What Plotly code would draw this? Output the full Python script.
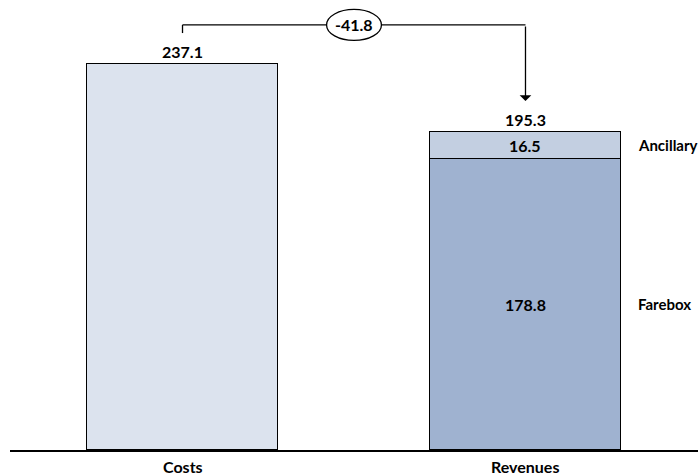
import plotly.graph_objects as go

# Values
categories = ["Costs", "Revenues"]
costs_total = [237.1]
farebox = [178.8]
ancillary = [16.5]
segment_names = ["Farebox", "Ancillary"]

revenue_total = round(farebox[0] + ancillary[0], 1)
delta = round(revenue_total - costs_total[0], 1)

font_family = "Lato, 'Open Sans', sans-serif"
bar_w = 0.557
line = dict(color="black", width=1)
bracket_line = dict(color="black", width=1.3)

fig = go.Figure()
fig.add_bar(x=[0], y=costs_total, width=bar_w, marker=dict(color="#dce3ee", line=line),
            showlegend=False, hoverinfo="skip")
fig.add_bar(x=[1], y=farebox, width=bar_w, marker=dict(color="#9fb2d0", line=line),
            showlegend=False, hoverinfo="skip")
fig.add_bar(x=[1], y=ancillary, width=bar_w, marker=dict(color="#c3cfe1", line=line),
            showlegend=False, hoverinfo="skip")

bold = dict(family=font_family, size=16, color="black", weight="bold")
side = dict(family=font_family, size=15, color="black", weight="bold")
ann = []
# totals above bars
ann.append(dict(x=0, y=costs_total[0], text=str(costs_total[0]), showarrow=False,
                yanchor="bottom", yshift=1, font=bold))
ann.append(dict(x=1, y=revenue_total, text=str(revenue_total), showarrow=False,
                yanchor="bottom", yshift=1, font=bold))
# segment values
ann.append(dict(x=1, y=farebox[0] + ancillary[0] / 2, text=str(ancillary[0]), showarrow=False, font=bold))
ann.append(dict(x=1, y=farebox[0] / 2, text=str(farebox[0]), showarrow=False, font=bold))
# segment names to the right
right_edge = 1 + bar_w / 2
ann.append(dict(x=right_edge, y=farebox[0] + ancillary[0] / 2, text=segment_names[1], showarrow=False,
                xanchor="left", xshift=15, font=side))
ann.append(dict(x=right_edge, y=farebox[0] / 2, text=segment_names[0], showarrow=False,
                xanchor="left", xshift=15, font=side))
# category labels
for i, c in enumerate(categories):
    ann.append(dict(x=i, y=0, text=c, showarrow=False, yanchor="top", yshift=-5, font=bold))

# bracket connecting the two totals
top_y = costs_total[0] + 24
start_y = costs_total[0] + 19
end_y = revenue_total + 19
ann.append(dict(x=1, y=end_y, ax=1, ay=top_y, axref="x", ayref="y", xref="x", yref="y",
                text="", showarrow=True, arrowhead=1, arrowsize=1.5, arrowwidth=1.3,
                arrowcolor="black", standoff=0, startstandoff=0))
ann.append(dict(x=0.5, y=top_y, text=str(delta), showarrow=False, font=bold))

shapes = [
    dict(type="line", x0=0, x1=0, y0=start_y, y1=top_y, line=bracket_line, layer="above"),
    dict(type="line", x0=0, x1=1, y0=top_y, y1=top_y, line=bracket_line, layer="above"),
    dict(type="circle", x0=0.5 - 0.08, x1=0.5 + 0.08, y0=top_y - 9.5, y1=top_y + 9.5,
         fillcolor="white", line=bracket_line, layer="above"),
]

fig.update_layout(
    width=698, height=476,
    margin=dict(l=10, r=0, t=0, b=26),
    paper_bgcolor="white", plot_bgcolor="white",
    barmode="stack",
    bargap=0,
    xaxis=dict(range=[-0.503, 1.503], showgrid=False, zeroline=False, showticklabels=False,
               showline=True, linecolor="black", linewidth=1.5, fixedrange=True),
    yaxis=dict(range=[0, 276.4], visible=False, fixedrange=True),
    annotations=ann,
    shapes=shapes,
    font=dict(family=font_family),
)

fig.write_html("out.html", config={"displayModeBar": False})
